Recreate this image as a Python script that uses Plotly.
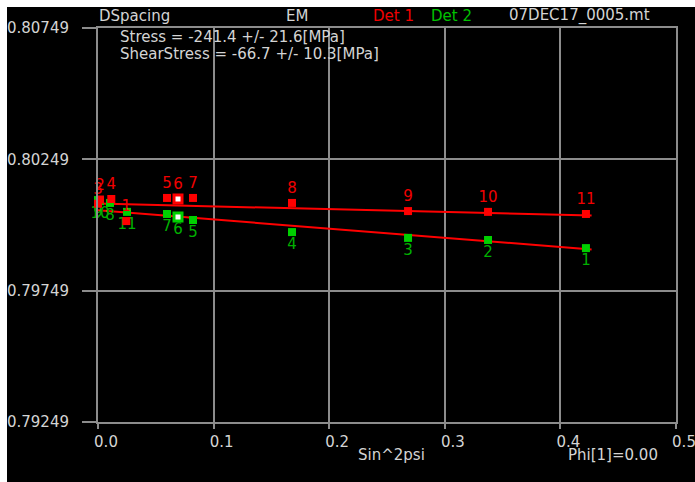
import plotly.graph_objects as go

# ---- data ----
det1_psi = [0.0245, 0.0017, 0.0000, 0.0115, 0.0597, 0.0692, 0.0822, 0.1678, 0.2682, 0.3374, 0.4221]
det1_d = [0.80014, 0.80096, 0.80080, 0.80098, 0.80102, 0.80098, 0.80102, 0.80083, 0.80052, 0.80049, 0.80041]
det1_labels = ["1", "2", "3", "4", "5", "6", "7", "8", "9", "10", "11"]

det2_psi = [0.4221, 0.3374, 0.2682, 0.1678, 0.0822, 0.0692, 0.0597, 0.0104, 0.0000, 0.0017, 0.0251]
det2_d = [0.79911, 0.79942, 0.79950, 0.79972, 0.80018, 0.80029, 0.80041, 0.80083, 0.80094, 0.80090, 0.80049]
det2_labels = ["1", "2", "3", "4", "5", "6", "7", "8", "9", "10", "11"]

selected_det1 = 5   # highlighted point (label 6)
selected_det2 = 5

fit_psi = [-0.003, 0.427]
fit1_d = [0.80081, 0.80035]
fit2_d = [0.80056, 0.79906]

x_ticks = [0.0, 0.1, 0.2, 0.3, 0.4, 0.5]
y_ticks = [0.79249, 0.79749, 0.80249, 0.80749]

stress_text = ["Stress = -241.4 +/- 21.6[MPa]", "ShearStress = -66.7 +/- 10.3[MPa]"]
header = ["DSpacing", "EM", "Det 1", "Det 2", "07DEC17_0005.mt"]

# ---- styles ----
RED = "#ff0000"
RED_TXT = "#f00000"
GREEN = "#00d000"
GREEN_TXT = "#00b000"
GRID = "#8c8c8c"
TXT = "#d4d4d4"
FONT = "DejaVu Sans"

fig = go.Figure()
fig.add_trace(go.Scatter(x=fit_psi, y=fit1_d, mode="lines",
                         line=dict(color=RED, width=2), showlegend=False, hoverinfo="skip"))
fig.add_trace(go.Scatter(x=fit_psi, y=fit2_d, mode="lines",
                         line=dict(color=RED, width=2), showlegend=False, hoverinfo="skip"))


def marker_style(n, sel, col):
    colors = [col] * n
    widths = [0] * n
    colors[sel] = "white"
    widths[sel] = 3
    return dict(symbol="square", color=colors, size=8, opacity=1,
                line=dict(color=col, width=widths))


fig.add_trace(go.Scatter(x=det2_psi, y=det2_d, mode="markers+text", text=det2_labels,
                         textposition="bottom center",
                         textfont=dict(family=FONT, size=15, color=GREEN_TXT),
                         marker=marker_style(len(det2_psi), selected_det2, GREEN),
                         showlegend=False, cliponaxis=False))
fig.add_trace(go.Scatter(x=det1_psi, y=det1_d, mode="markers+text", text=det1_labels,
                         textposition="top center",
                         textfont=dict(family=FONT, size=15, color=RED_TXT),
                         marker=marker_style(len(det1_psi), selected_det1, RED),
                         showlegend=False, cliponaxis=False))

W, H = 695, 482
L, R, T, B = 98, 19, 28, 60
pw, ph = W - L - R, H - T - B


def xp(px):
    return (px - L) / pw


def yp(py):
    return (H - B - py) / ph


ann = []
hx = [97, 284, 371, 429, 507]
hcol = [TXT, TXT, "#f00000", "#00c000", TXT]
for t, x, c in zip(header, hx, hcol):
    ann.append(dict(text=t, x=xp(x), y=yp(16), xref="paper", yref="paper",
                    xanchor="left", yanchor="middle", showarrow=False,
                    font=dict(family=FONT, size=15, color=c)))
for t, y in zip(stress_text, [37, 54]):
    ann.append(dict(text=t, x=xp(118), y=yp(y), xref="paper", yref="paper",
                    xanchor="left", yanchor="middle", showarrow=False,
                    font=dict(family=FONT, size=15, color=TXT)))
ann.append(dict(text="Sin^2psi", x=xp(356), y=yp(455), xref="paper", yref="paper",
                xanchor="left", yanchor="middle", showarrow=False,
                font=dict(family=FONT, size=15, color=TXT)))
ann.append(dict(text="Phi[1]=0.00", x=xp(566), y=yp(455), xref="paper", yref="paper",
                xanchor="left", yanchor="middle", showarrow=False,
                font=dict(family=FONT, size=15, color=TXT)))

# white border strips along the top and left edges
shapes = [
    dict(type="rect", xref="paper", yref="paper", x0=xp(0), x1=xp(W), y0=yp(7), y1=yp(0),
         fillcolor="white", line=dict(width=0), layer="above"),
    dict(type="rect", xref="paper", yref="paper", x0=xp(0), x1=xp(7), y0=yp(H), y1=yp(0),
         fillcolor="white", line=dict(width=0), layer="above"),
]

fig.update_layout(
    width=W, height=H,
    margin=dict(l=L, r=R, t=T, b=B),
    paper_bgcolor="black", plot_bgcolor="black",
    annotations=ann, shapes=shapes,
    xaxis=dict(range=[0, 0.5], tickvals=x_ticks, ticktext=[f"{v:.1f}" for v in x_ticks],
               showgrid=True, gridcolor=GRID, gridwidth=2, zeroline=False,
               showline=True, linecolor=GRID, linewidth=2, mirror=True,
               ticks="outside", ticklen=5, tickcolor=GRID, tickwidth=2,
               tickfont=dict(family=FONT, size=15, color=TXT), ticklabelshift=8,
               ticklabeloverflow="allow", automargin=False),
    yaxis=dict(range=[y_ticks[0], y_ticks[-1]], tickvals=y_ticks,
               ticktext=[f"{v:.5f}" for v in y_ticks],
               showgrid=True, gridcolor=GRID, gridwidth=2, zeroline=False,
               showline=True, linecolor=GRID, linewidth=2, mirror=True,
               ticks="outside", ticklen=14, tickcolor=GRID, tickwidth=2,
               tickfont=dict(family=FONT, size=15, color=TXT), ticklabelstandoff=10,
               automargin=False),
)

fig.write_html("out.html")
